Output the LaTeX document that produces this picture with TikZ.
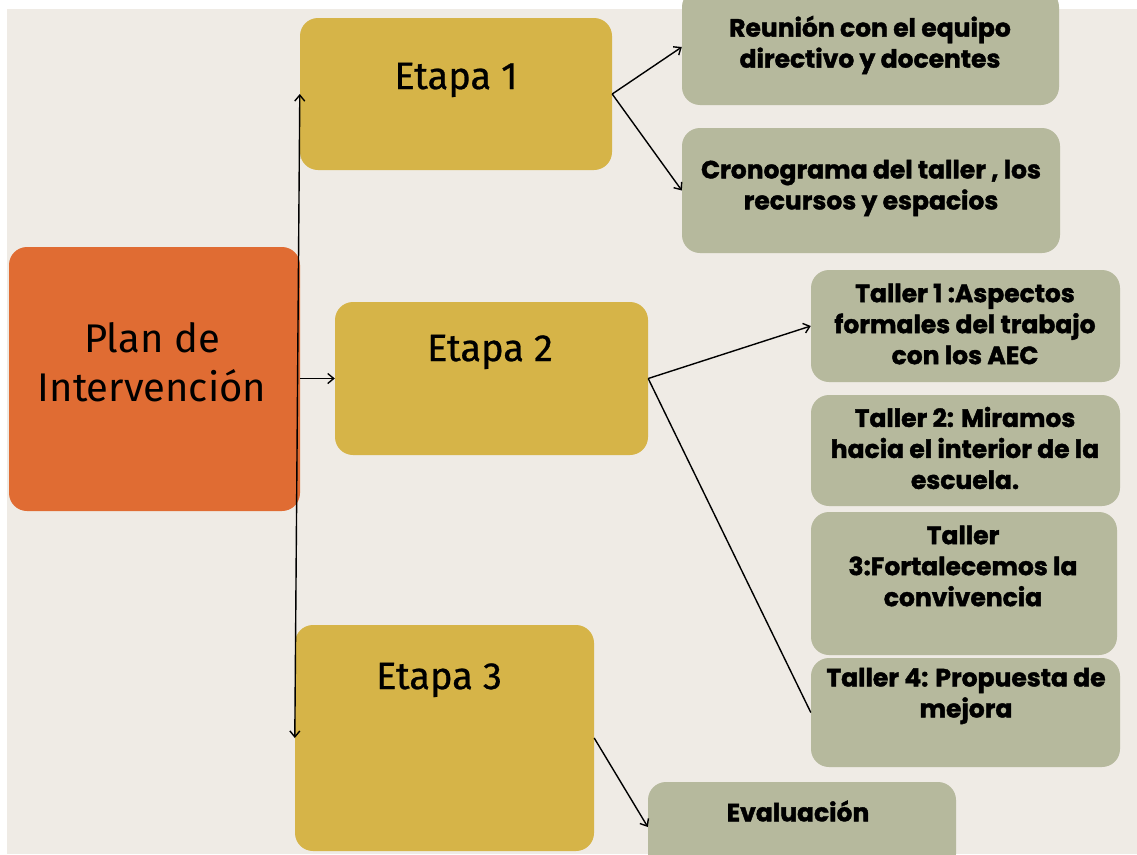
\documentclass[tikz,border=0pt]{standalone}
\usepackage{fontspec}
\usetikzlibrary{arrows.meta}
\setmainfont{Fira Sans}
\newfontfamily\media{Fira Sans}[FakeBold=0.7]
\newfontfamily\gruesa{Poppins}[BoldFeatures={FakeBold=1.6}]
\definecolor{fondo}{HTML}{EFEBE5}
\definecolor{naranja}{HTML}{E06C33}
\definecolor{dorado}{HTML}{D6B448}
\definecolor{salvia}{HTML}{B6B99D}
\begin{document}
\begin{tikzpicture}[x=1pt,y=-1pt,
  caja/.style={rectangle,rounded corners=18pt,inner sep=0pt},
  plan/.style={caja,fill=naranja},
  etapa/.style={caja,fill=dorado},
  tema/.style={caja,fill=salvia},
  titulo/.style={align=center,font=\fontsize{40}{49}\selectfont},
  rotulo/.style={align=center,font=\gruesa\fontsize{25}{31}\selectfont\bfseries},
  flecha/.style={-{Straight Barb[length=6pt,width=10pt]},line width=1.4pt}]
\useasboundingbox (0,0) rectangle (1137,854);
\clip (0,0) rectangle (1137,854);
\fill[fondo] (7,9) rectangle (1137,854);
% cajas
\node[plan,minimum width=291,minimum height=264] (plan) at (154.5,379) {};
\node[etapa,minimum width=312,minimum height=152] (e1) at (456,94) {};
\node[etapa,minimum width=313,minimum height=153] (e2) at (491.5,378.5) {};
\node[etapa,minimum width=299,minimum height=226] (e3) at (444.5,738) {};
\node[tema,minimum width=377,minimum height=116] (reunion) at (870.5,47) {};
\node[tema,minimum width=378,minimum height=125] (crono) at (871,190.5) {};
\node[tema,minimum width=309,minimum height=112] (t1) at (965.5,326) {};
\node[tema,minimum width=309,minimum height=111] (t2) at (965.5,450.5) {};
\node[tema,minimum width=306,minimum height=143] (t3) at (964,583.5) {};
\node[tema,minimum width=309,minimum height=109] (t4) at (965.5,712.5) {};
\node[tema,minimum width=308,minimum height=90] (eval) at (802,827) {};
% textos
\node[titulo] (plant) at (152,362) {Plan de\\Intervención};
\node[titulo,font=\media\fontsize{38}{46}\selectfont] (e1t) at (456,80) {Etapa 1};
\node[titulo,font=\media\fontsize{38}{46}\selectfont] (e2t) at (490,352) {Etapa 2};
\node[titulo,font=\media\fontsize{38}{46}\selectfont] (e3t) at (439,680) {Etapa 3};
\node[rotulo] (reuniont) at (870,45) {Reunión con el equipo\\directivo y docentes};
\node[rotulo] (cronot) at (871,188) {Cronograma del taller , los\\recursos y espacios};
\node[rotulo] (t1t) at (965,324) {Taller 1 :Aspectos\\formales del trabajo\\con los AEC};
\node[rotulo] (t2t) at (965,448) {Taller 2: Miramos\\hacia el interior de la\\escuela.};
\node[rotulo] (t3t) at (963,566) {Taller\\3:Fortalecemos la\\convivencia};
\node[rotulo] (t4t) at (966,696) {Taller 4: Propuesta de\\mejora};
\node[rotulo] (evalt) at (798,811) {Evaluación};
% conectores
\draw[flecha,{Straight Barb[length=6pt,width=10pt]}-{Straight Barb[length=6pt,width=10pt]}] (e1.west) -- (e3.west);
\draw[flecha] (e1.west |- e2.west) -- (e2.west);
\draw[flecha] (e1.east) -- (reunion.west);
\draw[flecha] (e1.east) -- (crono.west);
\draw[flecha] (e2.east) -- (t1.west);
\draw[line width=1.4pt] (e2.east) -- (t4.west);
\draw[flecha] (e3.east) -- (eval.west);
\end{tikzpicture}
\end{document}
